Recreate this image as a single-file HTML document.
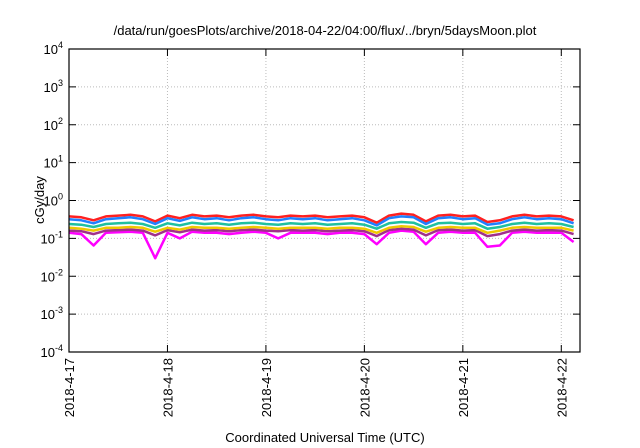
<!DOCTYPE html>
<html><head><meta charset="utf-8"><style>
body{margin:0;background:#fff}
svg{display:block;font-family:"Liberation Sans",sans-serif}
</style></head><body>
<svg id="chart" width="640" height="448">
<text x="325" y="35" font-size="13" text-anchor="middle">/data/run/goesPlots/archive/2018-04-22/04:00/flux/../bryn/5daysMoon.plot</text>
<text x="325" y="442" font-size="13" text-anchor="middle">Coordinated Universal Time (UTC)</text>
<text transform="translate(44,200) rotate(-90)" font-size="13" text-anchor="middle">cGy/day</text>
<g id="grid"></g><g id="series"></g><g id="axes"></g>
</svg>
<script>
const yExponents=[4,3,2,1,0,-1,-2,-3,-4];
const xTickLabels=["2018-4-17","2018-4-18","2018-4-19","2018-4-20","2018-4-21","2018-4-22"];
const stepDays=0.125;
const red=[0.38,0.36,0.30,0.38,0.40,0.42,0.38,0.28,0.40,0.34,0.42,0.38,0.40,0.36,0.40,0.42,0.38,0.36,0.40,0.38,0.40,0.36,0.38,0.40,0.36,0.26,0.40,0.45,0.42,0.28,0.40,0.42,0.38,0.40,0.27,0.30,0.38,0.42,0.38,0.40,0.38,0.30];
const blue=[0.32,0.30,0.25,0.32,0.34,0.36,0.32,0.24,0.34,0.29,0.36,0.32,0.34,0.30,0.34,0.36,0.32,0.30,0.34,0.32,0.34,0.30,0.32,0.34,0.30,0.22,0.34,0.38,0.36,0.24,0.34,0.36,0.32,0.34,0.23,0.25,0.32,0.36,0.32,0.34,0.32,0.25];
const cyan=[0.24,0.23,0.20,0.24,0.25,0.26,0.24,0.19,0.25,0.22,0.26,0.24,0.25,0.23,0.25,0.26,0.24,0.23,0.25,0.24,0.25,0.23,0.24,0.25,0.23,0.18,0.25,0.27,0.26,0.19,0.25,0.26,0.24,0.25,0.18,0.20,0.24,0.26,0.24,0.25,0.24,0.20];
const yellow=[0.19,0.18,0.16,0.19,0.19,0.20,0.19,0.15,0.19,0.17,0.20,0.19,0.19,0.18,0.19,0.20,0.19,0.18,0.19,0.19,0.19,0.18,0.19,0.19,0.18,0.14,0.19,0.21,0.20,0.15,0.19,0.20,0.19,0.19,0.14,0.16,0.19,0.20,0.19,0.19,0.19,0.16];
const purple=[0.16,0.155,0.13,0.16,0.165,0.17,0.16,0.12,0.165,0.145,0.17,0.16,0.165,0.155,0.165,0.17,0.16,0.155,0.165,0.16,0.165,0.155,0.16,0.165,0.155,0.115,0.165,0.18,0.17,0.12,0.165,0.17,0.16,0.165,0.115,0.13,0.16,0.17,0.16,0.165,0.16,0.13];
const magenta=[0.14,0.13,0.065,0.14,0.145,0.15,0.14,0.03,0.14,0.10,0.15,0.14,0.14,0.13,0.14,0.15,0.14,0.10,0.14,0.14,0.14,0.13,0.14,0.14,0.13,0.07,0.14,0.16,0.15,0.07,0.14,0.15,0.14,0.14,0.06,0.065,0.14,0.15,0.14,0.14,0.14,0.08];

const L=69,R=580,T=49,B=352,xMax=5.19;
const NS="http://www.w3.org/2000/svg";
function X(d){return L+d/xMax*(R-L);}
function Y(v){return B-(Math.log10(v)+4)/8*(B-T);}
function el(t,a,p){const e=document.createElementNS(NS,t);for(const k in a)e.setAttribute(k,a[k]);p.appendChild(e);return e;}
const grid=document.getElementById('grid'),axes=document.getElementById('axes'),ser=document.getElementById('series');
yExponents.forEach(function(ex){
  const y=Y(Math.pow(10,ex));
  if(ex<4&&ex>-4){const g=el('line',{x1:L,x2:R,y1:y,y2:y,stroke:'#bbb','stroke-dasharray':'1,2','stroke-width':1},grid);
  
  }
  el('line',{x1:L,x2:L+7,y1:y,y2:y,stroke:'#000'},axes);
  el('line',{x1:R-7,x2:R,y1:y,y2:y,stroke:'#000'},axes);
  const t=el('text',{x:L-6,y:y+5,'font-size':13,'text-anchor':'end'},axes);
  
  
  t.innerHTML='10<tspan dy="-6" font-size="9">'+ex+'</tspan>';
});
xTickLabels.forEach(function(lab,i){
  const x=X(i);
  if(i>0){const g=el('line',{x1:x,x2:x,y1:T,y2:B,stroke:'#bbb','stroke-dasharray':'1,2'},grid);
  
  }
  el('line',{x1:x,x2:x,y1:B,y2:B-7,stroke:'#000'},axes);
  el('line',{x1:x,x2:x,y1:T,y2:T+7,stroke:'#000'},axes);
  const t=el('text',{transform:'translate('+(x+5)+','+(B+6)+') rotate(-90)','font-size':13,'text-anchor':'end'},axes);
  
  
  t.textContent=lab;
});
const fr=el('rect',{x:L,y:T,width:R-L,height:B-T,fill:'none',stroke:'#000','stroke-width':1.2},axes);


const list=[[magenta,'#ff00ff','magenta-series'],[purple,'#a0308c','purple-series'],[yellow,'#f0c800','yellow-series'],[cyan,'#20c0a0','cyan-series'],[red,'#ff2020','red-series'],[blue,'#2080ff','blue-series']];
list.forEach(function(s){
  const pts=s[0].map(function(v,i){return X(i*stepDays).toFixed(1)+','+Y(v).toFixed(1);}).join(' ');
  const p=el('polyline',{points:pts,fill:'none',stroke:s[1],'stroke-width':2.5,'stroke-linejoin':'round'},ser);
  
  
});
</script>
</body></html>
